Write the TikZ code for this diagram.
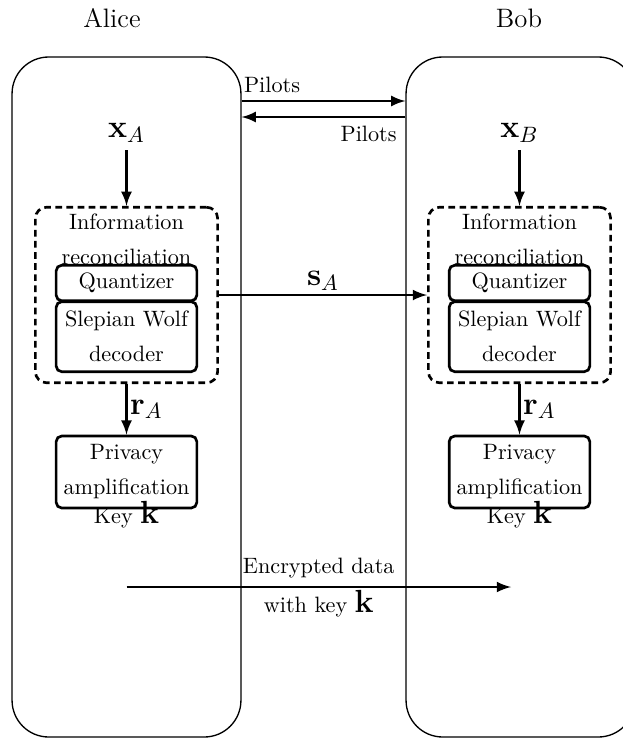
\documentclass[tikz,border=0pt]{standalone}
\usepackage{amsmath,amssymb}
\usetikzlibrary{positioning}

\tikzset{
  party/.style={draw, semithick, rounded corners=16.5pt, minimum width=103pt, minimum height=306pt},
  recon/.style={draw, very thick, dash pattern=on 3pt off 2pt, rounded corners=5pt, minimum width=82pt, minimum height=79pt},
  block/.style={draw, very thick, rounded corners=2.5pt, minimum width=63.3pt, align=center, inner sep=1pt},
  link/.style={very thick, ->},
}

\begin{document}
\begin{tikzpicture}[x=0.45pt, y=-0.45pt, >=latex]
    \clip (0,0) rectangle (623,738);

    % the two parties
    \node[party] (alice) at (126.5,397) {};
    \node[party] (bob) at (520.5,397) {};
    \node[font=\large] (aliceName) at (112,18) {Alice};
    \node[font=\large] (bobName) at (519,18) {Bob};

    % pilots
    \coordinate (pilotUp) at (0,101);
    \coordinate (pilotDown) at (0,117);
    \draw[link] (alice.east |- pilotUp) -- node[above right, pos=0, inner xsep=0.5pt] (pilotsA) {Pilots} (bob.west |- pilotUp);
    \draw[link] (bob.west |- pilotDown) -- node[below left, pos=0] (pilotsB) {Pilots} (alice.east |- pilotDown);

    % Alice
    \node[font=\Large] (xA) at (126.5,133) {$\mathbf{x}_A$};
    \node[recon] (reconA) at (126.5,295) {};
    \node[align=center, anchor=north] (reconTextA) at (reconA.north) {Information\\[3.75pt] reconciliation};
    \node[block, minimum height=16pt] (quantA) at (126.5,283) {Quantizer};
    \node[block, minimum height=31.5pt] (swA) at (126.5,336.7) {Slepian Wolf\\[3.75pt] decoder};
    \node[block, minimum height=32.4pt] (privA) at (126.5,472) {Privacy\\[3.75pt] amplification};
    \node[below=-7pt of privA] (keyA) {Key \Large$\mathbf{k}$};

    % Bob
    \node[font=\Large] (xB) at (519.5,133) {$\mathbf{x}_B$};
    \node[recon] (reconB) at (519.5,295) {};
    \node[align=center, anchor=north] (reconTextB) at (reconB.north) {Information\\[3.75pt] reconciliation};
    \node[block, minimum height=16pt] (quantB) at (519.5,283) {Quantizer};
    \node[block, minimum height=31.5pt] (swB) at (519.5,336.7) {Slepian Wolf\\[3.75pt] decoder};
    \node[block, minimum height=32.4pt] (privB) at (519.5,472) {Privacy\\[3.75pt] amplification};
    \node[below=-7pt of privB] (keyB) {Key \Large$\mathbf{k}$};

    % connectors
    \draw[link] (xA) -- (reconA.north);
    \draw[link] (xB) -- (reconB.north);
    \draw[link] (reconA) -- node[above, inner sep=1.5pt, font=\Large] (sA) {$\mathbf{s}_A$} (reconB);
    \draw[link] (reconA.south) -- node[right, inner xsep=1pt, font=\Large] (rA) {$\mathbf{r}_A$} (privA.north);
    \draw[link] (reconB.south) -- node[right, inner xsep=1pt, font=\Large] (rB) {$\mathbf{r}_A$} (privB.north);

    % encrypted data
    \coordinate (encA) at (126.5,587);
    \coordinate (encB) at (511,587);
    \draw[link] (encA) -- node[above] (encTop) {Encrypted data} node[below, inner ysep=1pt] (encBottom) {with key \Large$\mathbf{k}$} (encB);
\end{tikzpicture}
\end{document}
